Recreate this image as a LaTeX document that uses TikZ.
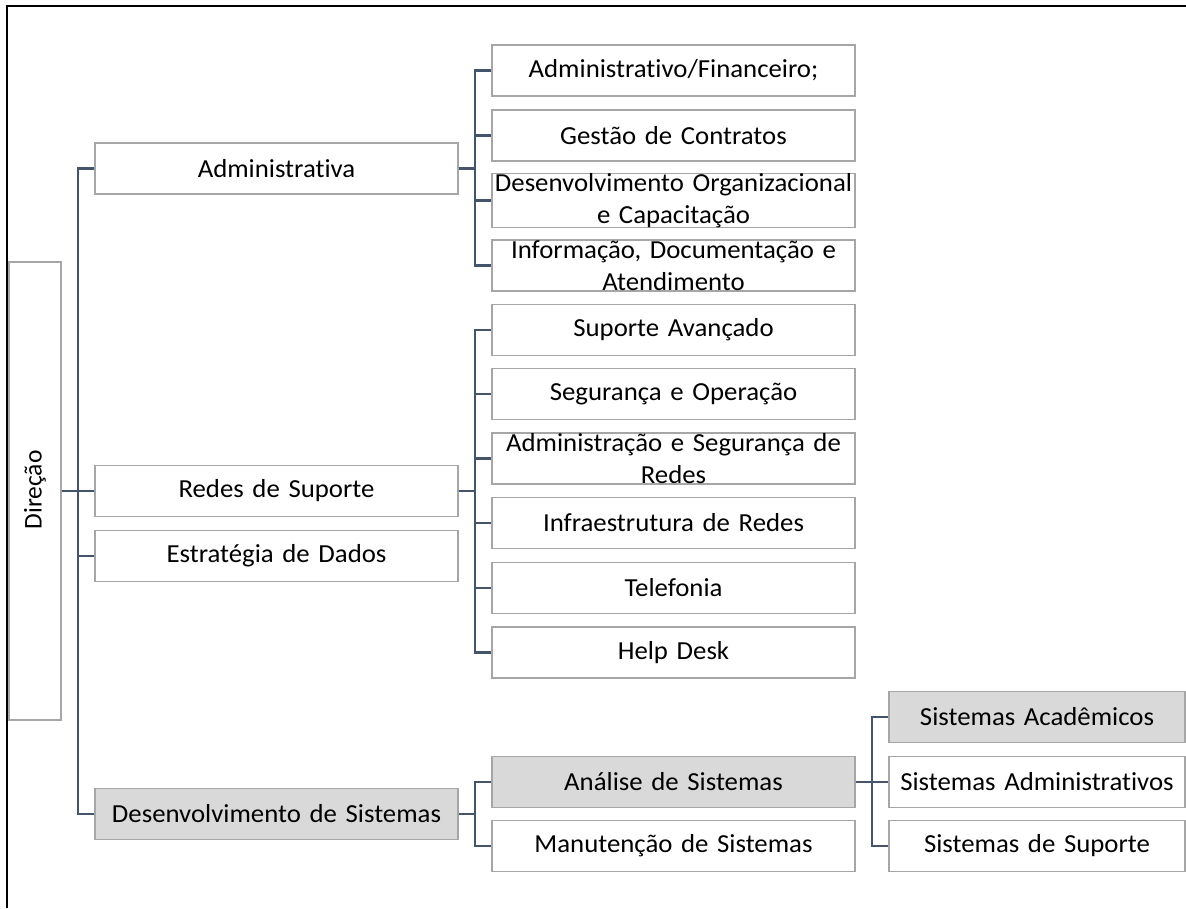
\documentclass[tikz,border=0pt]{standalone}
\usepackage{fontspec}
\setmainfont{Carlito}[Ligatures=NoCommon, FakeStretch=1.03]
\newfontfamily\rootfont{Carlito}[Ligatures=NoCommon]
\definecolor{linkcol}{HTML}{44546A}
\definecolor{boxline}{HTML}{A6A6A6}
\definecolor{shade}{HTML}{D9D9D9}
\tikzset{
  unit/.style={draw=boxline, line width=1.2pt, fill=white, inner sep=0pt,
    minimum height=51pt, align=center, text width=363pt,
    font=\fontsize{26}{31.7}\selectfont},
  leaf/.style={unit, text width=296pt},
  grey/.style={fill=shade},
  conn/.style={draw=linkcol, line width=2.2pt},
}
\begin{document}
\begin{tikzpicture}[x=1pt,y=-1pt]
\useasboundingbox (0,0) rectangle (1186,908);
% outer frame (top and left sides)
\draw[black, line width=1.5pt] (7,908) -- (7,6) -- (1186,6);

% bus lines
\coordinate (busA) at (78,0);
\coordinate (busB) at (475,0);
\coordinate (busC) at (872,0);

% root
\node[draw=boxline, line width=1.2pt, fill=white, minimum width=52pt,
      minimum height=458pt, inner sep=0pt] (dir) at (35,491) {};
\node[rotate=90, font=\rootfont\fontsize{25.5}{30}\selectfont] (dirlbl) at (35,490) {Direção};

% first level
\node[unit] (adm)   at (276.5,168.5) {Administrativa};
\node[unit] (redes) at (276.5,491)   {Redes de Suporte};
\node[unit] (estr)  at (276.5,556)   {Estratégia de Dados};
\node[unit, grey] (dev) at (276.5,814) {Desenvolvimento de Sistemas};

% second level: Administrativa
\node[unit] (af)  at (673.5,70.5)  {Administrativo/Financeiro;};
\node[unit] (gc)  at (673.5,135.5) {Gestão de Contratos};
\node[unit] (doc) at (673.5,200.5) {Desenvolvimento Organizacional\\e Capacitação};
\node[unit] (ida) at (673.5,265.5) {Informação, Documentação e\\Atendimento};

% second level: Redes de Suporte
\node[unit] (sa)  at (673.5,330)   {Suporte Avançado};
\node[unit] (so)  at (673.5,394)   {Segurança e Operação};
\node[unit] (asr) at (673.5,458.5) {Administração e Segurança de\\Redes};
\node[unit] (ir)  at (673.5,523)   {Infraestrutura de Redes};
\node[unit] (tel) at (673.5,588)   {Telefonia};
\node[unit] (hd)  at (673.5,652.5) {Help Desk};

% second level: Desenvolvimento de Sistemas
\node[unit, grey] (ans) at (673.5,782) {Análise de Sistemas};
\node[unit] (man) at (673.5,846) {Manutenção de Sistemas};

% third level: Análise de Sistemas
\node[leaf, grey] (acad) at (1037,717) {Sistemas Acadêmicos};
\node[leaf] (sadm) at (1037,782) {Sistemas Administrativos};
\node[leaf] (ssup) at (1037,846) {Sistemas de Suporte};

% connectors
\foreach \c in {adm,redes,estr,dev}
  \draw[conn] (dir.east) -- (dir.east -| busA) |- (\c.west);
\foreach \c in {af,gc,doc,ida}
  \draw[conn] (adm.east) -- (adm.east -| busB) |- (\c.west);
\foreach \c in {sa,so,asr,ir,tel,hd}
  \draw[conn] (redes.east) -- (redes.east -| busB) |- (\c.west);
\foreach \c in {ans,man}
  \draw[conn] (dev.east) -- (dev.east -| busB) |- (\c.west);
\foreach \c in {acad,sadm,ssup}
  \draw[conn] (ans.east) -- (ans.east -| busC) |- (\c.west);
\end{tikzpicture}
\end{document}
